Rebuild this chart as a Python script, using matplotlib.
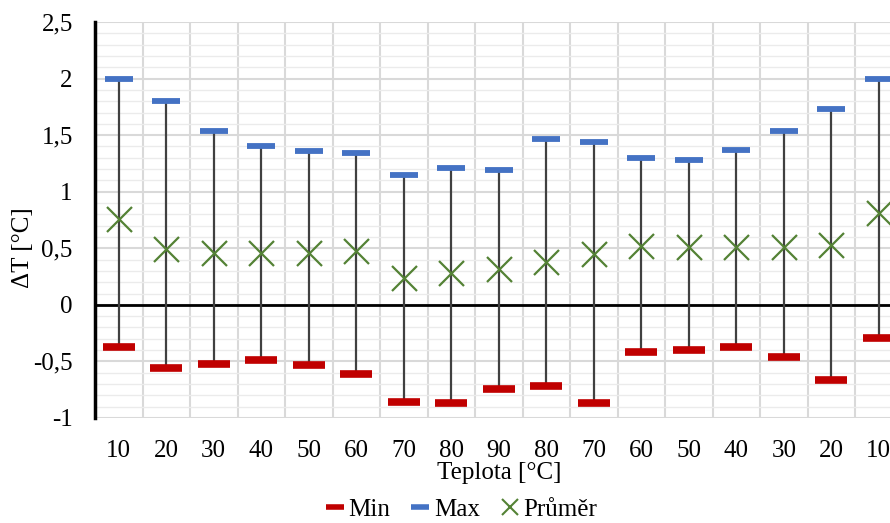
import matplotlib.pyplot as plt
from matplotlib.lines import Line2D
from matplotlib.ticker import MultipleLocator, FuncFormatter

teploty = ["10", "20", "30", "40", "50", "60", "70", "80", "90",
           "80", "70", "60", "50", "40", "30", "20", "10"]
t_min = [-0.37, -0.56, -0.52, -0.49, -0.53, -0.61, -0.86, -0.87, -0.74,
         -0.72, -0.87, -0.42, -0.40, -0.37, -0.46, -0.66, -0.29]
t_max = [2.00, 1.80, 1.54, 1.40, 1.36, 1.34, 1.15, 1.21, 1.19,
         1.47, 1.44, 1.30, 1.28, 1.37, 1.54, 1.73, 2.00]
t_avg = [0.76, 0.49, 0.46, 0.46, 0.46, 0.48, 0.24, 0.28, 0.32,
         0.38, 0.45, 0.52, 0.51, 0.51, 0.51, 0.53, 0.81]

plt.rcParams['font.family'] = ['Liberation Serif', 'DejaVu Serif']
plt.rcParams['font.size'] = 18

fig = plt.figure(figsize=(8.9, 5.23), dpi=100)
# plot area runs a bit past the right edge, as in the original
ax = fig.add_axes([95 / 890, 1 - 418 / 523, 807.5 / 890, 396 / 523])

x = list(range(len(teploty)))

ax.vlines(x, t_min, t_max, color='#404040', lw=1.6, zorder=3)
ax.plot(x, t_min, ls='none', marker='_', ms=23, mew=5.5, color='#C00000', zorder=4)
ax.plot(x, t_max, ls='none', marker='_', ms=20, mew=4.2, color='#4472C4', zorder=4)
ax.plot(x, t_avg, ls='none', marker='x', ms=18, mew=1.6, color='#548235', zorder=4)

ax.axhline(0, color='black', lw=2, zorder=2)

ax.set_xlim(-0.5, len(teploty) - 0.5)
ax.set_ylim(-1, 2.5)
ax.set_xticks(x)
ax.set_xticklabels(teploty)
ax.xaxis.set_minor_locator(MultipleLocator(1, offset=0.5))
ax.yaxis.set_major_locator(MultipleLocator(0.5))
ax.yaxis.set_minor_locator(MultipleLocator(0.1))
ax.yaxis.set_major_formatter(FuncFormatter(lambda v, p: f"{v:g}".replace('.', ',')))

ax.grid(which='minor', axis='x', color='#D9D9D9', lw=1.5)
ax.grid(which='major', axis='y', color='#D9D9D9', lw=1.5)
ax.grid(which='minor', axis='y', color='#EBEBEB', lw=1.0)
ax.set_axisbelow(True)

ax.tick_params(which='both', length=0)
ax.tick_params(axis='y', pad=16)
ax.tick_params(axis='x', pad=16)

for s in ['top', 'right', 'bottom']:
    ax.spines[s].set_visible(False)
ax.spines['left'].set_linewidth(2.5)
ax.spines['left'].set_color('black')

ax.set_xlabel("Teplota [°C]", labelpad=0)
ax.set_ylabel("ΔT [°C]")
ax.yaxis.set_label_coords(-0.089, 0.43)
ax.yaxis.label.set_va('center')

handles = [
    Line2D([], [], ls='none', marker='_', ms=13, mew=4, color='#C00000', label='Min'),
    Line2D([], [], ls='none', marker='_', ms=13, mew=4, color='#4472C4', label='Max'),
    Line2D([], [], ls='none', marker='x', ms=11, mew=1.5, color='#548235', label='Průměr'),
]
fig.legend(handles=handles, loc='center', bbox_to_anchor=(0.518, 0.026), ncol=3, frameon=False,
           handlelength=0.8, columnspacing=0.8, handletextpad=0.15, borderpad=0)

fig.savefig("out.png", dpi=100)
